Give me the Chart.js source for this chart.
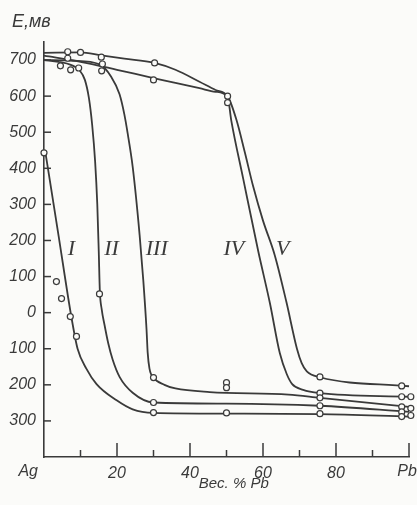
<!DOCTYPE html>
<html><head><meta charset="utf-8">
<script src="https://cdn.jsdelivr.net/npm/chart.js@4.4.1/dist/chart.umd.min.js"></script>
<style>html,body{margin:0;padding:0;background:#fbfbf9;}canvas{display:block}</style>
</head><body><canvas id="c" width="417" height="505"></canvas>
<script>
// ---- data (x = weight % Pb, E = mV) ----
const curveI   = [[0.4,443],[4,213],[7.5,-12],[9.2,-100],[11.6,-155],[14.4,-198],[19.9,-243],[24.3,-268],[30,-278],[50,-280],[75.6,-281],[100,-288]];
const curveII  = [[0,700],[4,695],[7.5,686],[9.7,672],[11.2,645],[12.3,595],[13.2,520],[14,420],[14.6,300],[15,170],[15.3,60],[15.8,10],[16.6,-35],[17.6,-85],[18.8,-130],[20.7,-178],[24.3,-222],[30,-249],[50,-252],[75.6,-258],[100,-275]];
const curveIII = [[0,700],[8,698],[15.2,688],[18.4,654],[20.7,605],[22,550],[22.9,498],[24.3,404],[26.2,215],[27.2,90],[28.1,-48],[28.4,-110],[28.9,-155],[30,-180],[33,-200],[36,-210],[45.4,-220],[67,-227],[75.6,-236],[100,-261]];
const curveIV  = [[0,712],[10,695],[20,673],[30,650],[36,637],[42.6,622],[47,612],[50.3,598],[51.3,533],[54.6,370],[58.7,170],[61.9,26],[64.6,-112],[66.5,-170],[68,-198],[71,-214],[75.6,-223],[100,-233]];
const curveV   = [[0,720],[10,721],[15.7,713],[22,704],[30.3,692],[36,673],[42.6,640],[47,617],[50.3,600],[52.7,535],[55,445],[57.3,350],[60,255],[63.2,160],[66.4,30],[69.3,-100],[70.6,-140],[72,-163],[75.6,-179],[100,-204]];
const circlesX = [0,3.4,4.8,7.2,8.9, 4.5,7.3,9.5,6.5,6.5,10,15.7,16,15.8,30.3,30,50.3,50.3, 15.2, 30,30,30, 50,50,50, 75.6,75.6,75.6,75.6,75.6, 98,98,98,98,98, 100.5,100.5,100.5];
const circlesE = [443,86,39,-11,-66, 684,673,678,705,723,721,708,689,670,692,645,600,582, 52, -180,-249,-277, -194,-208,-278, -178,-223,-236,-258,-280, -203,-233,-261,-275,-288, -233,-265,-285];
const curveNames = ['I','II','III','IV','V'];
const nameX = [7.5,18.5,30.9,52,65.4];
const nameE = [176,176,176,176,176];
const yTickValues = [-300,-200,-100,0,100,200,300,400,500,600,700];
const xMajorTicks = [20,40,60,80,100];
const xMinorTicks = [10,30,50,70,90];
const xEndLabels = ['Ag','Pb'];
const yTitle = 'E,мв';
const xTitle = 'Вес. % Pb';

const INK = '#3a3a3a';
const FAM = '"Liberation Sans", Arimo, sans-serif';
const toPts = c => c.map(p => ({x:p[0], y:p[1]}));

const curveSets = [curveI,curveII,curveIII,curveIV,curveV].map(c => ({
  type:'line', data: toPts(c), borderColor: INK, borderWidth: 1.8, pointRadius: 0,
  cubicInterpolationMode:'monotone', fill:false, order: 1, clip: false
}));
const circleSet = {
  type:'scatter', data: circlesX.map((x,i)=>({x, y: circlesE[i]})),
  showLine:false, pointRadius:3, pointBorderWidth:1.2, pointBorderColor: INK,
  pointBackgroundColor:'#fbfbf9', order:0, clip:false
};

const deco = {
  id:'deco',
  afterDraw(chart){
    const {ctx, scales:{x,y}, chartArea:a} = chart;
    ctx.save();
    ctx.strokeStyle = INK; ctx.lineWidth = 1.5;
    yTickValues.forEach(v => {
      const py = y.getPixelForValue(v);
      ctx.beginPath(); ctx.moveTo(a.left, py); ctx.lineTo(a.left+7, py); ctx.stroke();
    });
    xMajorTicks.forEach(v => {
      const px = x.getPixelForValue(v);
      ctx.beginPath(); ctx.moveTo(px, a.bottom); ctx.lineTo(px, a.bottom-14); ctx.stroke();
    });
    xMinorTicks.forEach(v => {
      const px = x.getPixelForValue(v);
      ctx.beginPath(); ctx.moveTo(px, a.bottom); ctx.lineTo(px, a.bottom-7); ctx.stroke();
    });
    ctx.fillStyle = INK;
    ctx.font = 'italic 16px ' + FAM;
    ctx.textBaseline = 'middle';
    ctx.textAlign = 'right';
    ctx.fillText(xEndLabels[0], x.getPixelForValue(0) - 6, a.bottom + 15);
    ctx.textAlign = 'center';
    ctx.fillText(xEndLabels[1], x.getPixelForValue(100) - 2, a.bottom + 15);
    ctx.font = 'italic 15px ' + FAM;
    ctx.fillText(xTitle, x.getPixelForValue(52), a.bottom + 27);
    ctx.textAlign = 'left';
    ctx.font = 'italic 18px ' + FAM;
    ctx.fillText(yTitle, 12, 22);
    ctx.font = 'italic 22px "Liberation Serif", "DejaVu Serif", serif';
    ctx.textAlign = 'center';
    curveNames.forEach((n,i) => {
      ctx.fillText(n, x.getPixelForValue(nameX[i]), y.getPixelForValue(nameE[i]));
    });
    ctx.restore();
  }
};

new Chart(document.getElementById('c'), {
  data: { datasets: [circleSet, ...curveSets] },
  options: {
    responsive:false, animation:false, devicePixelRatio:1,
    layout:{ padding:{ top:42, right:8, left:0, bottom:0 } },
    plugins:{ legend:{display:false}, tooltip:{enabled:false} },
    scales:{
      x:{ type:'linear', min:0, max:100,
        grid:{ display:true, drawOnChartArea:false, drawTicks:false },
        border:{ display:true, color:INK, width:1.6 },
        ticks:{ stepSize:20, padding:7, color:INK, autoSkip:false, font:{family:FAM, size:16, style:'italic'},
          callback: v => xMajorTicks.includes(v) && v < 100 ? String(v) : '' },
        afterFit: s => { s.height = 48; }
      },
      y:{ type:'linear', min:-400, max:750,
        grid:{ display:true, drawOnChartArea:false, drawTicks:false },
        border:{ display:true, color:INK, width:1.6 },
        ticks:{ stepSize:100, padding:8, color:INK, autoSkip:false, includeBounds:false, font:{family:FAM, size:16, style:'italic'},
          callback: v => yTickValues.includes(v) ? String(Math.abs(v)) : '' },
        afterFit: s => { s.width = 44; }
      }
    }
  },
  plugins:[deco]
});
</script></body></html>
